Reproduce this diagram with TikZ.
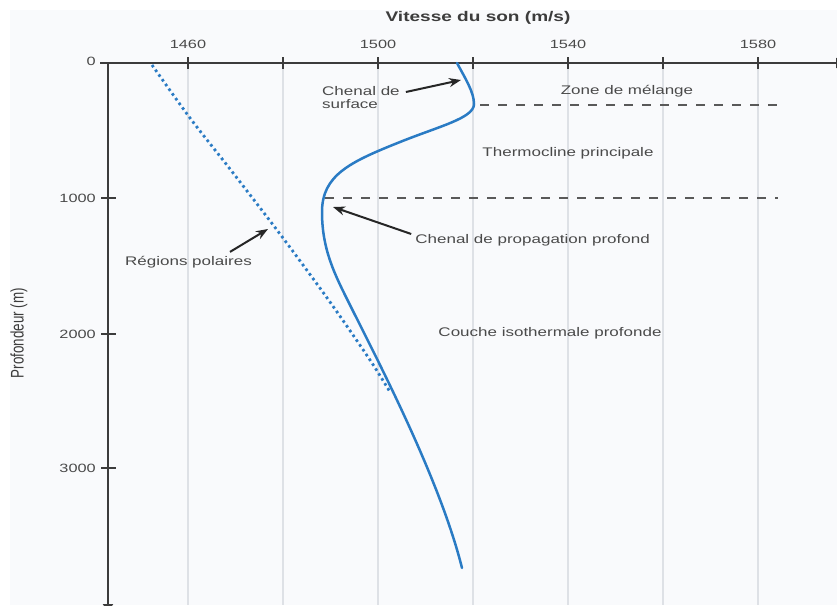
\documentclass[tikz,border=0pt]{standalone}
\usepackage{fontspec}
\usepackage{graphicx}
\setmainfont{Liberation Sans}
\newfontfamily\widefont{Liberation Sans}[FakeStretch=1.36]
\usetikzlibrary{arrows.meta,positioning}
\definecolor{curveblue}{RGB}{42,123,196}
\definecolor{axisgray}{RGB}{60,60,60}
\definecolor{gridgray}{RGB}{222,225,230}
\definecolor{labelgray}{RGB}{74,74,74}
\definecolor{bggray}{RGB}{249,250,252}

\begin{document}
\begin{tikzpicture}[x=1pt, y=-1pt,
    axis line/.style={draw=axisgray, line width=2pt},
    grid line/.style={draw=gridgray, line width=1.5pt},
    layer line/.style={draw=axisgray!85, line width=1.3pt, dash pattern=on 9pt off 9pt},
    profile/.style={draw=curveblue, line width=2.5pt, line cap=round},
    polar profile/.style={draw=curveblue, line width=2.8pt, dash pattern=on 2.6pt off 3.2pt},
    label arrow/.style={-{Stealth[length=12pt,width=9pt]}, draw=black!85, line width=2pt},
    zone/.style={font=\widefont\fontsize{12.5}{13}\selectfont, text=labelgray},
    tick label/.style={font=\widefont\fontsize{12}{12}\selectfont, text=labelgray}]
  \tikzstyle{every node}=[inner sep=0pt]

  \useasboundingbox (0,0) rectangle (837,605);
  \fill[bggray] (10,10) rectangle (837,605);

  \foreach \x in {188,283,378,473,568,663,758}
    \draw[grid line] (\x,63) -- (\x,605);

  \draw[axis line, -{Triangle[length=8pt,width=10pt]}] (100,63) -- (844,63);
  \draw[axis line, -{Triangle[length=8pt,width=10pt]}] (108,63) -- (108,612);

  \foreach \x in {188,283,378,473,568,663,758}
    \draw[axis line] (\x,57) -- (\x,69);
  \foreach \y in {198,334,468}
    \draw[axis line] (101,\y) -- (116,\y);

  \foreach \x/\v in {188/1460,378/1500,568/1540,758/1580}
    \node[tick label] (v\v) at (\x,44) {\v};
  \foreach \y/\d in {61/0,198/1000,334/2000,468/3000}
    \node[tick label, anchor=east] (d\d) at (96,\y) {\d};

  \node[font=\widefont\bfseries\fontsize{14}{14}\selectfont, text=axisgray] (title) at (478,18) {Vitesse du son (m/s)};
  \node[rotate=90, text=axisgray, font=\fontsize{13.4}{14}\selectfont] (depth) at (19,333) {\scalebox{1}[1.36]{Profondeur (m)}};

  \draw[layer line] (480,105) -- (778,105);
  \draw[layer line] (325,198) -- (778,198);

  \draw[polar profile] plot[smooth] coordinates {(152,65) (190,118) (230,169) (280,234) (330,302) (370,360) (390,392)};
  \draw[profile] (457,63) .. controls (465,78) and (474,92) .. (474,104)
    .. controls (474,118) and (440,126) .. (400,142)
    .. controls (350,162) and (322,175) .. (322,212)
    .. controls (322,250) and (335,275) .. (350,305)
    .. controls (380,365) and (440,480) .. (462,568);

  \node[zone] (mixing) at (627,91) {Zone de mélange};
  \node[zone] (thermo) at (568,153) {Thermocline principale};
  \node[zone] (isotherm) at (550,333) {Couche isothermale profonde};
  \node[zone, align=left, anchor=north west] (surface) at (322,86) {Chenal de\\surface};
  \node[zone, anchor=east] (deep) at (650,240) {Chenal de propagation profond};
  \node[zone, anchor=east] (polar) at (252,262) {Régions polaires};

  \coordinate (surfpt) at (461,80);
  \coordinate (deeppt) at (333,207);
  \coordinate (polarpt) at (268,229);

  \draw[label arrow] ([shift={(6,6)}]surface.north east) -- (surfpt);
  \draw[label arrow] ([xshift=-4pt]deep.north west) -- (deeppt);
  \draw[label arrow] ([shift={(-22,-4)}]polar.north east) -- (polarpt);
\end{tikzpicture}
\end{document}
